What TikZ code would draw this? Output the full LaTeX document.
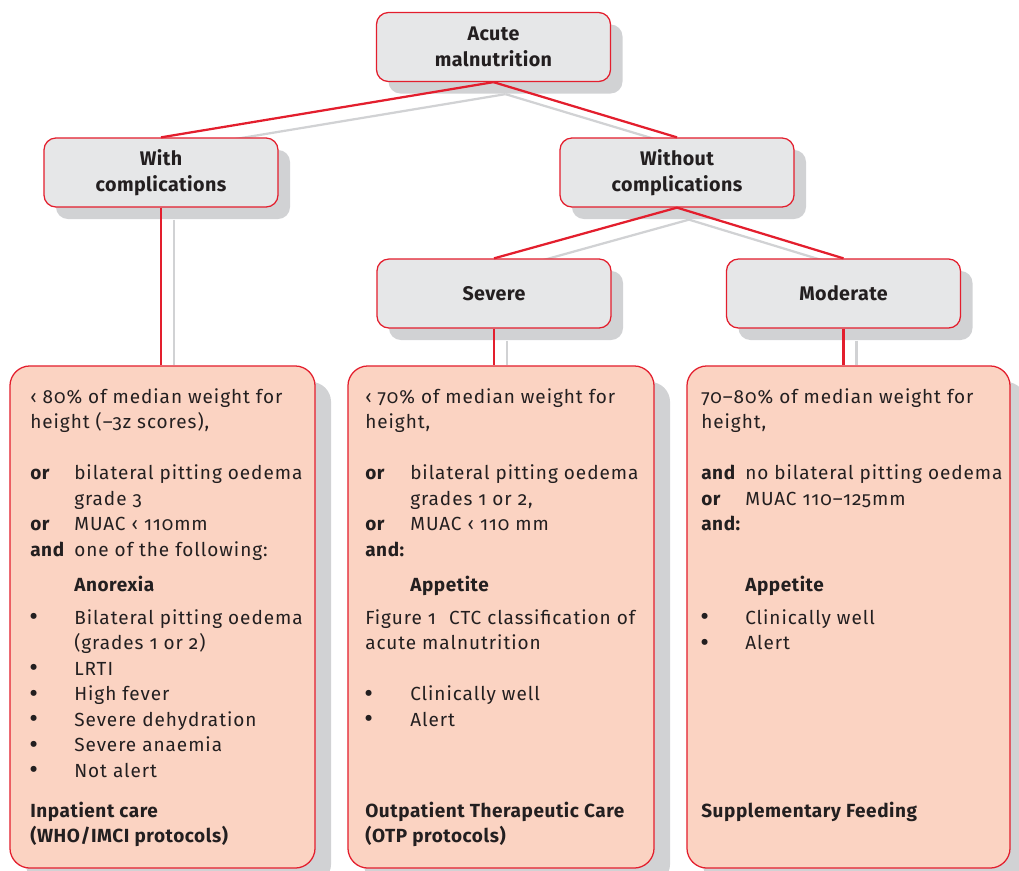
\documentclass[tikz,border=0pt]{standalone}
\usepackage{fontspec}
\setmainfont{Fira Sans}[Numbers=OldStyle]
\usetikzlibrary{positioning,calc,shadows,backgrounds}
\definecolor{mnred}{RGB}{227,30,45}
\definecolor{boxgray}{RGB}{230,231,232}
\definecolor{shadowgray}{RGB}{209,210,212}
\definecolor{salmon}{RGB}{251,211,194}
\definecolor{textdark}{RGB}{35,31,32}
\newcommand{\bodyfont}{\fontsize{13.5}{18}\selectfont\addfontfeature{LetterSpace=5}}
\newcommand{\headfont}{\fontsize{13.5}{18}\selectfont\bfseries\addfontfeature{LetterSpace=3}}
\tikzset{
  catbox/.style={draw=mnred, line width=0.9pt, fill=boxgray, rounded corners=0.3cm,
    minimum width=5.85cm, minimum height=1.725cm, align=center, text=textdark,
    font=\fontsize{14}{18.4}\selectfont\bfseries\addfontfeature{LetterSpace=2},
    general shadow={fill=shadowgray, shadow xshift=0.3cm, shadow yshift=-0.3cm}},
  bigbox/.style={draw=mnred, line width=0.9pt, fill=salmon, rounded corners=0.5cm,
    minimum height=12.55cm,
    general shadow={fill=shadowgray, shadow xshift=0.4cm, shadow yshift=-0.4cm}},
  link/.style={mnred, line width=1.6pt},
  linkshade/.style={shadowgray, line width=1.6pt},
  txt/.style={anchor=base west, inner sep=0pt, text=textdark, font=\bodyfont},
  btxt/.style={txt, font=\headfont},
  dot/.style={txt, font=\fontsize{19}{18}\selectfont, yshift=-1.2pt},
}

\begin{document}
\begin{tikzpicture}[x=0.025cm,y=-0.025cm]
\useasboundingbox (0,0) rectangle (1019,870);

% category boxes
\node[catbox] (acute) at (493.5,47) {Acute\\malnutrition};
\node[catbox] (withc) at (161,172.5) {With\\complications};
\node[catbox] (woutc) at (677,172.5) {Without\\complications};
\node[catbox] (severe) at (494,293.5) {Severe};
\node[catbox] (moder) at (843.5,293.5) {Moderate};

% criteria boxes
\node[bigbox, minimum width=7.625cm] (inpat) at (162.5,617) {};
\node[bigbox, minimum width=7.65cm] (otp) at (501,617) {};
\node[bigbox, minimum width=8.075cm] (supp) at (848.5,617) {};

% connectors
\draw[link] (acute.south) -- (withc.north);
\draw[link] (acute.south) -- (woutc.north);
\draw[link] (woutc.south) -- (severe.north);
\draw[link] (woutc.south) -- (moder.north);
\draw[link] (withc.south) -- (withc.south |- inpat.north);
\draw[link] (severe.south) -- (severe.south |- otp.north);
\draw[link] (moder.south) -- (moder.south |- supp.north);

\begin{pgfonlayer}{background}
\draw[linkshade] ($(acute.south)+(12,12)$) -- ($(withc.north)+(12,12)$);
\draw[linkshade] ($(acute.south)+(12,12)$) -- ($(woutc.north)+(12,12)$);
\draw[linkshade] ($(woutc.south)+(12,12)$) -- ($(severe.north)+(12,12)$);
\draw[linkshade] ($(woutc.south)+(12,12)$) -- ($(moder.north)+(12,12)$);
\draw[linkshade] ($(withc.south)+(13,12)$) -- ($(withc.south |- inpat.north)+(13,0)$);
\draw[linkshade] ($(severe.south)+(13,12)$) -- ($(severe.south |- otp.north)+(13,0)$);
\draw[linkshade] ($(moder.south)+(13,12)$) -- ($(moder.south |- supp.north)+(13,0)$);
\end{pgfonlayer}

% inpatient care
\node[txt] (ip1) at (30,403) {‹ 80\% of median weight for};
\node[txt] (ip2) at (30,428.5) {height (–3z scores),};
\node[btxt] (ip3) at (30,479.5) {or};
\node[txt] (ip4) at (74,479.5) {bilateral pitting oedema};
\node[txt] (ip5) at (74,505) {grade 3};
\node[btxt] (ip6) at (30,530.5) {or};
\node[txt] (ip7) at (74,530.5) {MUAC ‹ 110mm};
\node[btxt] (ip8) at (30,556) {and};
\node[txt] (ip9) at (74,556) {one of the following:};
\node[btxt] (ip10) at (74,591) {Anorexia};
\foreach \lbl/\y [count=\i] in {{Bilateral pitting oedema}/624, LRTI/675, {High fever}/700.5,
    {Severe dehydration}/726, {Severe anaemia}/751.5, {Not alert}/777}
  {
    \node[dot] (ipd\i) at (29,\y) {\textbullet};
    \node[txt] (ipb\i) at (74,\y) {\lbl};
  }
\node[txt] (ip11) at (74,649.5) {(grades 1 or 2)};
\node[btxt] (ip12) at (30,817) {Inpatient care};
\node[btxt] (ip13) at (30,842.5) {(WHO/IMCI protocols)};

% outpatient therapeutic care
\node[txt] (op1) at (365,403) {‹ 70\% of median weight for};
\node[txt] (op2) at (365,428.5) {height,};
\node[btxt] (op3) at (365,479.5) {or};
\node[txt] (op4) at (410,479.5) {bilateral pitting oedema};
\node[txt] (op5) at (410,505) {grades 1 or 2,};
\node[btxt] (op6) at (365,530.5) {or};
\node[txt] (op7) at (410,530.5) {MUAC ‹ 110 mm};
\node[btxt] (op8) at (365,556) {and:};
\node[btxt] (op9) at (410,591) {Appetite};
\node[txt] (op10) at (365,624) {Figure 1\hspace{0.7em}CTC classification of};
\node[txt] (op11) at (365,649.5) {acute malnutrition};
\foreach \lbl/\y [count=\i] in {{Clinically well}/700.5, Alert/726}
  {
    \node[dot] (opd\i) at (364,\y) {\textbullet};
    \node[txt] (opb\i) at (410,\y) {\lbl};
  }
\node[btxt] (op12) at (365,817) {Outpatient Therapeutic Care};
\node[btxt] (op13) at (365,842.5) {(OTP protocols)};

% supplementary feeding
\node[txt] (sf1) at (701,403) {70–80\% of median weight for};
\node[txt] (sf2) at (701,428.5) {height,};
\node[btxt] (sf3) at (701,479.5) {and};
\node[txt] (sf4) at (745,479.5) {no bilateral pitting oedema};
\node[btxt] (sf5) at (701,505) {or};
\node[txt] (sf6) at (745,505) {MUAC 110–125mm};
\node[btxt] (sf7) at (701,530.5) {and:};
\node[btxt] (sf8) at (745,591) {Appetite};
\foreach \lbl/\y [count=\i] in {{Clinically well}/624, Alert/649.5}
  {
    \node[dot] (sfd\i) at (700,\y) {\textbullet};
    \node[txt] (sfb\i) at (745,\y) {\lbl};
  }
\node[btxt] (sf9) at (701,817) {Supplementary Feeding};
\end{tikzpicture}
\end{document}
